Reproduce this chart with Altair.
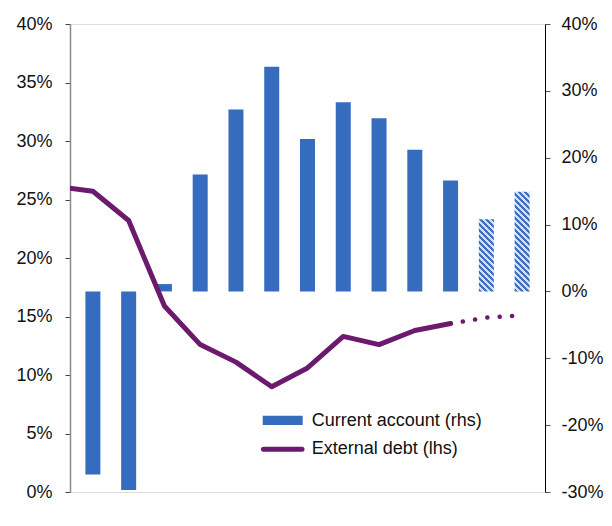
import json
import altair as alt
import pandas as pd

# ---------------- data ----------------
years = ['03', '04', '05', '06', '07', '08', '09', '10', '11', '12', '13', '14', '15']
current_account = [-27.4, -29.7, 1.1, 17.5, 27.2, 33.6, 22.8, 28.3, 25.9, 21.2, 16.6, 10.8, 14.9]
forecast_years = ['14', '15']

debt_years = ['02', '03', '04', '05', '06', '07', '08', '09', '10', '11', '12', '13']
external_debt = [26.1, 25.7, 23.2, 15.9, 12.6, 11.1, 9.0, 10.6, 13.3, 12.6, 13.8, 14.4]
debt_forecast_years = ['13', '14', '15']
debt_forecast = [14.4, 14.9, 15.1]

left_ticks = [0, 5, 10, 15, 20, 25, 30, 35, 40]
right_ticks = [-30, -20, -10, 0, 10, 20, 30, 40]
legend_labels = ['Current account (rhs)', 'External debt (lhs)']

# ---------------- style ----------------
PLOT_W, PLOT_H = 475, 468
BLUE = '#356CBE'
PURPLE = '#6C1A6E'
FONT = 'Liberation Sans'
FS = 18
BAR_W = 15
RHS_DOMAIN = [-30, 40]
LHS_DOMAIN = [0, 40]

bars_df = pd.DataFrame({'x': [int(y) for y in years], 'year': years, 'value': current_account})
bars_df['forecast'] = bars_df['year'].isin(forecast_years)
debt_df = pd.DataFrame({'x': [int(y) for y in debt_years], 'value': external_debt})
debt_fc_df = pd.DataFrame({'x': [int(y) for y in debt_forecast_years], 'value': debt_forecast})

x_scale = alt.Scale(domain=[int(years[0]) - 0.5, int(years[-1]) + 0.5], nice=False, zero=False)
x_ticks = [int(years[0]) - 0.5 + i for i in range(len(years) + 1)]
x_label_expr = "%s[round(datum.value - %s)] || ''" % (json.dumps(years), int(years[0]) - 0.5)

x_axis = alt.Axis(values=x_ticks, labelExpr=x_label_expr, labelOffset=PLOT_W / len(years) / 2,
                  tickSize=5, tickColor='#444', domainColor='#8a8a8a', domainWidth=1.5,
                  labelFontSize=FS, labelFont=FONT, labelColor='#111', labelPadding=5,
                  labelFlush=False, labelOverlap=False, labelBound=False, grid=False, title=None)

rhs_axis = alt.Axis(orient='right', values=right_ticks, labelExpr="datum.value + '%'",
                    tickSize=5, tickColor='#555', domainColor='#000', labelFontSize=FS,
                    labelFont=FONT, labelColor='#111', labelPadding=11, grid=False, title=None)
lhs_axis = alt.Axis(orient='left', values=left_ticks, labelExpr="datum.value + '%'",
                    tickSize=5, tickColor='#444', domainColor='#8a8a8a', domainWidth=1.5,
                    labelFontSize=FS, labelFont=FONT, labelColor='#111', labelPadding=13,
                    grid=False, title=None)

bars = alt.Chart(bars_df[~bars_df['forecast']]).mark_bar(size=BAR_W, color=BLUE).encode(
    x=alt.X('x:Q', scale=x_scale, axis=x_axis),
    y=alt.Y('value:Q', scale=alt.Scale(domain=RHS_DOMAIN, nice=False), axis=rhs_axis),
)


def hatch_gradient(value):
    w = BAR_W
    h = abs(value) * PLOT_H / (RHS_DOMAIN[1] - RHS_DOMAIN[0])
    k = (w + h) / (w * w + h * h)
    n = (w + h) / 6.0
    stops = []
    j = 0
    while True:
        t0 = min(j / (2 * n), 1.0)
        t1 = min((j + 1) / (2 * n), 1.0)
        col = '#3D70C1' if j % 2 == 0 else '#D3DFF2'
        stops.append({'offset': t0, 'color': col})
        stops.append({'offset': t1, 'color': col})
        if t1 >= 1.0:
            break
        j += 1
    return {'gradient': 'linear', 'x1': 0, 'y1': 1, 'x2': k * w, 'y2': 1 - k * h, 'stops': stops}


hatch_layers = []
for _, row in bars_df[bars_df['forecast']].iterrows():
    hatch_layers.append(
        alt.Chart(pd.DataFrame([row])).mark_bar(size=BAR_W, color=hatch_gradient(row['value'])).encode(
            x=alt.X('x:Q', scale=x_scale, axis=None),
            y=alt.Y('value:Q', scale=alt.Scale(domain=RHS_DOMAIN, nice=False), axis=None),
        )
    )

line = alt.Chart(debt_df).mark_line(color=PURPLE, strokeWidth=5, clip=True,
                                    strokeJoin='round', strokeCap='round').encode(
    x=alt.X('x:Q', scale=x_scale, axis=None),
    y=alt.Y('value:Q', scale=alt.Scale(domain=LHS_DOMAIN, nice=False), axis=lhs_axis),
)

dotted = alt.Chart(debt_fc_df).mark_line(color=PURPLE, strokeWidth=4.5, strokeCap='round',
                                         strokeDash=[0.1, 12.3], strokeDashOffset=0).encode(
    x=alt.X('x:Q', scale=x_scale, axis=None),
    y=alt.Y('value:Q', scale=alt.Scale(domain=LHS_DOMAIN, nice=False), axis=None),
)

one = pd.DataFrame({'d': [0]})
leg_rect = alt.Chart(one).mark_rect(color=BLUE).encode(
    x=alt.value(192.7), x2=alt.value(232.7), y=alt.value(391.7), y2=alt.value(401))
leg_line = alt.Chart(one).mark_rule(color=PURPLE, strokeWidth=5, strokeCap='round').encode(
    x=alt.value(193.5), x2=alt.value(232), y=alt.value(425.3))
leg_text1 = alt.Chart(one).mark_text(align='left', baseline='middle', fontSize=FS, font=FONT,
                                     color='#111').encode(
    x=alt.value(241.7), y=alt.value(396.5), text=alt.value(legend_labels[0]))
leg_text2 = alt.Chart(one).mark_text(align='left', baseline='middle', fontSize=FS, font=FONT,
                                     color='#111').encode(
    x=alt.value(241.7), y=alt.value(425), text=alt.value(legend_labels[1]))

chart = alt.layer(bars, *hatch_layers, line, dotted, leg_rect, leg_line, leg_text1, leg_text2).resolve_scale(
    y='independent'
).properties(
    width=PLOT_W, height=PLOT_H,
    padding={'left': 70, 'top': 24, 'right': 67, 'bottom': 34},
    autosize=alt.AutoSizeParams(type='none'),
).configure_view(stroke=None).configure(background='white')

chart.save('out.html', embed_options={'renderer': 'svg', 'actions': False})
